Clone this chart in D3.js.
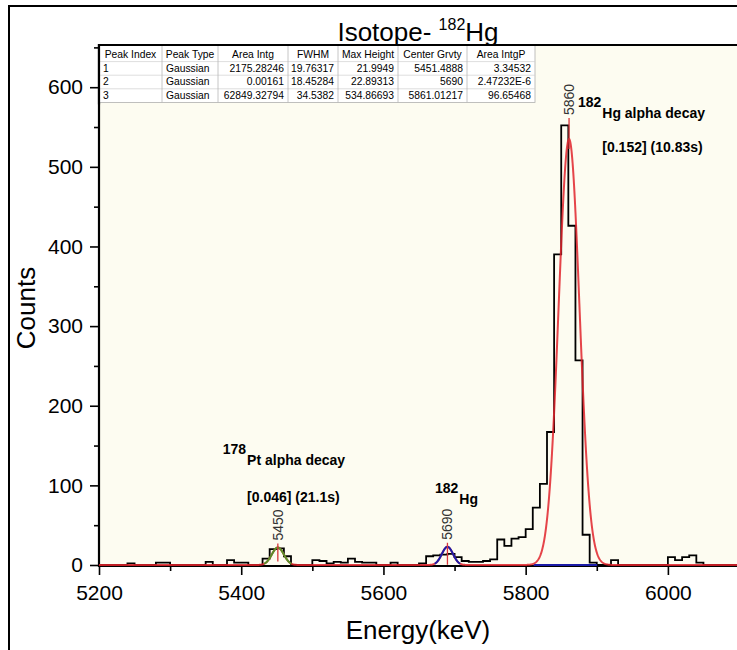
<!DOCTYPE html>
<html><head><meta charset="utf-8">
<script src="https://cdn.jsdelivr.net/npm/d3@7"></script>
<style>
body{margin:0;background:#fff;}
svg{display:block;font-family:Arial,"Liberation Sans",sans-serif;}
</style>
</head><body>
<svg id="chart" width="737" height="650"></svg>
<script>
// ---------------- data ----------------
const binStart = 5200;
const binWidth = 10;
const counts = [
  0,0,0,0,2,0,0,0,3,3,          // 5200-5290
  0,0,0,0,0,4,0,0,6,3,          // 5300-5390
  3,0,0,8,20,21,11,0,0,0,       // 5400-5490
  6,5,2,4,3,8,4,3,3,0,          // 5500-5590
  0,3,0,0,0,2,11,12,13,14,      // 5600-5690
  10,5,4,4,5,7,32,24,33,35,     // 5700-5790
  45,72,102,167,390,552,426,257,38,3, // 5800-5890
  0,0,6,0,0,0,0,0,0,0,          // 5900-5990
  10,6,10,12,3,0,0,0,0,0        // 6000-6090
];
const peakIndex = ["1","2","3"];
const peakType = ["Gaussian","Gaussian","Gaussian"];
const areaIntg = ["2175.28246","0.00161","62849.32794"];
const fwhmText = ["19.76317","18.45284","34.5382"];
const maxHeightText = ["21.9949","22.89313","534.86693"];
const centerText = ["5451.4888","5690","5861.01217"];
const areaIntgP = ["3.34532","2.47232E-6","96.65468"];
const tableHeaders = ["Peak Index","Peak Type","Area Intg","FWHM","Max Height","Center Grvty","Area IntgP"];

const peakCenters = [5451.4888, 5690, 5861.01217];
const peakFWHM = [19.76317, 18.45284, 34.5382];
const peakHeights = [21.9949, 22.89313, 534.86693];
const peakLabels = ["5450","5690","5860"];
const peakColors = ["#5a8f2a","#1c1ca8",null];

const xTicks = [5200,5400,5600,5800,6000];
const xMinor = [5300,5500,5700,5900,6100];
const yTicks = [0,100,200,300,400,500,600];
const yMinor = [50,150,250,350,450,550,650];

// ---------------- layout ----------------
const L = 99, R = 739, T = 45, B = 565;
const svg = d3.select("#chart");
const x = d3.scaleLinear().domain([5200, 6100]).range([L, R]);
const y = d3.scaleLinear().domain([0, 653]).range([B, T]);

// outer frame
svg.append("rect").attr("x",9).attr("y",6).attr("width",760).attr("height",680)
  .attr("fill","#fff").attr("stroke","#000").attr("stroke-width",2);

// plot background
svg.append("rect").attr("x",L).attr("y",T).attr("width",R-L).attr("height",B-T)
  .attr("fill","#fdfcf1");

svg.append("clipPath").attr("id","clip").append("rect")
  .attr("x",L).attr("y",T).attr("width",R-L).attr("height",B-T+3);

// axes
const fmt = d3.format("d");
const xAxis = svg.append("g").attr("transform",`translate(0,${B+1})`)
  .call(d3.axisBottom(x).tickValues(xTicks).tickFormat(fmt).tickSize(9).tickPadding(10).tickSizeOuter(0));
const xAxisMinor = svg.append("g").attr("transform",`translate(0,${B+1})`)
  .call(d3.axisBottom(x).tickValues(xMinor).tickSize(5).tickFormat("").tickSizeOuter(0));
const yAxis = svg.append("g").attr("transform",`translate(${L},0)`)
  .call(d3.axisLeft(y).tickValues(yTicks).tickFormat(fmt).tickSize(9).tickPadding(7).tickSizeOuter(0));
const yAxisMinor = svg.append("g").attr("transform",`translate(${L},0)`)
  .call(d3.axisLeft(y).tickValues(yMinor.filter(v=>v<653)).tickSize(5).tickFormat("").tickSizeOuter(0));
[xAxis,xAxisMinor,yAxis,yAxisMinor].forEach(g=>{
  g.select(".domain").remove();
  g.selectAll(".tick line").attr("stroke","#000").attr("stroke-width",1.6);
  g.selectAll(".tick text").attr("font-size",21).attr("fill","#000")
    .attr("font-family","Arial,'Liberation Sans',sans-serif");
});
// axis lines / frame
svg.append("line").attr("x1",L).attr("x2",R).attr("y1",B+1).attr("y2",B+1)
  .attr("stroke","#000").attr("stroke-width",2);
svg.append("line").attr("x1",L).attr("x2",L).attr("y1",T-1).attr("y2",B+2)
  .attr("stroke","#000").attr("stroke-width",2.2);

const plot = svg.append("g").attr("clip-path","url(#clip)");

// histogram
const pts = counts.map((c,i)=>[binStart+i*binWidth, c]);
pts.push([binStart+counts.length*binWidth, counts[counts.length-1]]);
plot.append("path").datum(pts)
  .attr("d", d3.line().x(d=>x(d[0])).y(d=>y(d[1])).curve(d3.curveStepAfter))
  .attr("fill","none").attr("stroke","#000").attr("stroke-width",1.8);

// gaussian helpers (curves from the fit parameters in the table)
const gauss = (e,k)=> peakHeights[k]*Math.exp(-4*Math.LN2*Math.pow(e-peakCenters[k],2)/Math.pow(peakFWHM[k],2));
const sigma = k => peakFWHM[k]/2.3548;

// blue baseline segment under main peak
plot.append("line").attr("x1",x(peakCenters[2]-3.4*sigma(2))).attr("x2",x(peakCenters[2]+2.7*sigma(2)))
  .attr("y1",y(0)).attr("y2",y(0)).attr("stroke","#1c1ca8").attr("stroke-width",2);

// cumulative fit
const fitPts = d3.range(5200, 6100.5, 0.5).map(e=>[e, gauss(e,0)+gauss(e,1)+gauss(e,2)]);
plot.append("path").datum(fitPts)
  .attr("d", d3.line().x(d=>x(d[0])).y(d=>y(d[1])))
  .attr("fill","none").attr("stroke","#e0232b").attr("stroke-width",2).attr("stroke-opacity",0.85);

// individual peaks 1 & 2
[0,1].forEach(k=>{
  const s = sigma(k);
  const p = d3.range(peakCenters[k]-2.3*s, peakCenters[k]+2.3*s+0.01, 0.25).map(e=>[e, gauss(e,k)]);
  plot.append("path").datum(p)
    .attr("d", d3.line().x(d=>x(d[0])).y(d=>y(d[1])))
    .attr("fill","none").attr("stroke",peakColors[k]).attr("stroke-width",2);
});

// peak markers + labels
const markerLift = [4, 4, 21];
const markerDrop = [14, 18, 10];
peakCenters.forEach((c,k)=>{
  const px = x(c);
  const top = y(peakHeights[k]) - markerLift[k];
  svg.append("line").attr("x1",px).attr("x2",px)
    .attr("y1",y(peakHeights[k]) + markerDrop[k]).attr("y2",top)
    .attr("stroke","#d8353a").attr("stroke-width",1.3);
  svg.append("text").attr("transform",`translate(${px+5},${top-3}) rotate(-90)`)
    .attr("font-size",14).attr("fill","#333").text(peakLabels[k]);
});

// annotations
function annot(xp, yp, sup, main, sub, subGap) {
  const g = svg.append("g").attr("font-weight","bold").attr("font-size",14).attr("fill","#000");
  const t1 = g.append("text").attr("x",xp).attr("y",yp).text(sup);
  const w = t1.node().getComputedTextLength();
  g.append("text").attr("x",xp+w+1).attr("y",yp+11).text(main);
  if (sub) g.append("text").attr("x",xp+w+1).attr("y",yp+11+subGap).text(sub);
}
annot(x(5374), y(140), "178", "Pt alpha decay", "[0.046] (21.1s)", 37);
annot(x(5672.5), y(90), "182", "Hg", null, 0);
annot(x(5873.5), y(575), "182", "Hg alpha decay", "[0.152] (10.83s)", 34);

// title
const title = svg.append("text").attr("x",(L+737)/2).attr("y",41).attr("text-anchor","middle")
  .attr("font-size",26).attr("fill","#000");
title.append("tspan").text("Isotope- ");
title.append("tspan").attr("font-size",16).attr("dy",-11).text("182");
title.append("tspan").attr("dy",11).text("Hg");

// axis titles
svg.append("text").attr("transform",`translate(35,${(T+B)/2+3}) rotate(-90)`)
  .attr("text-anchor","middle").attr("font-size",26).text("Counts");
svg.append("text").attr("x",(L+737)/2).attr("y",639).attr("text-anchor","middle")
  .attr("font-size",26).text("Energy(keV)");

// table
const colEdges = [L, 162, 218, 288, 338, 398, 467, 535];
const rowTop = 48, rowH = 13.6;
const tbl = svg.append("g").attr("font-size",10.3).attr("fill","#000");
tbl.append("rect").attr("x",L).attr("y",T).attr("width",colEdges[7]-L).attr("height",rowTop-T+rowH*4)
  .attr("fill","#fff").attr("stroke","#b0b0b0").attr("stroke-width",0.8);
for (let r=1;r<4;r++) tbl.append("line").attr("x1",L).attr("x2",colEdges[7])
  .attr("y1",rowTop+r*rowH).attr("y2",rowTop+r*rowH).attr("stroke","#d0d0d0").attr("stroke-width",0.7);
for (let c=1;c<7;c++) tbl.append("line").attr("x1",colEdges[c]).attr("x2",colEdges[c])
  .attr("y1",T).attr("y2",rowTop+rowH*4).attr("stroke","#b8b8b8").attr("stroke-width",0.8);
tableHeaders.forEach((h,c)=>{
  tbl.append("text").attr("x",(colEdges[c]+colEdges[c+1])/2).attr("y",rowTop+rowH-3.5)
    .attr("text-anchor","middle").text(h);
});
const cols = [peakIndex, peakType, areaIntg, fwhmText, maxHeightText, centerText, areaIntgP];
for (let r=0;r<3;r++){
  cols.forEach((col,c)=>{
    const left = c<2;
    tbl.append("text")
      .attr("x", left ? colEdges[c]+4 : colEdges[c+1]-4)
      .attr("y", rowTop+(r+2)*rowH-3.5)
      .attr("text-anchor", left ? "start" : "end")
      .text(col[r]);
  });
}
// left axis / top frame over table
svg.append("line").attr("x1",L).attr("x2",L).attr("y1",T-1).attr("y2",rowTop+rowH*4+2)
  .attr("stroke","#000").attr("stroke-width",2.2);
svg.append("line").attr("x1",L).attr("x2",R).attr("y1",T).attr("y2",T)
  .attr("stroke","#000").attr("stroke-width",2.2);
</script>
</body></html>
